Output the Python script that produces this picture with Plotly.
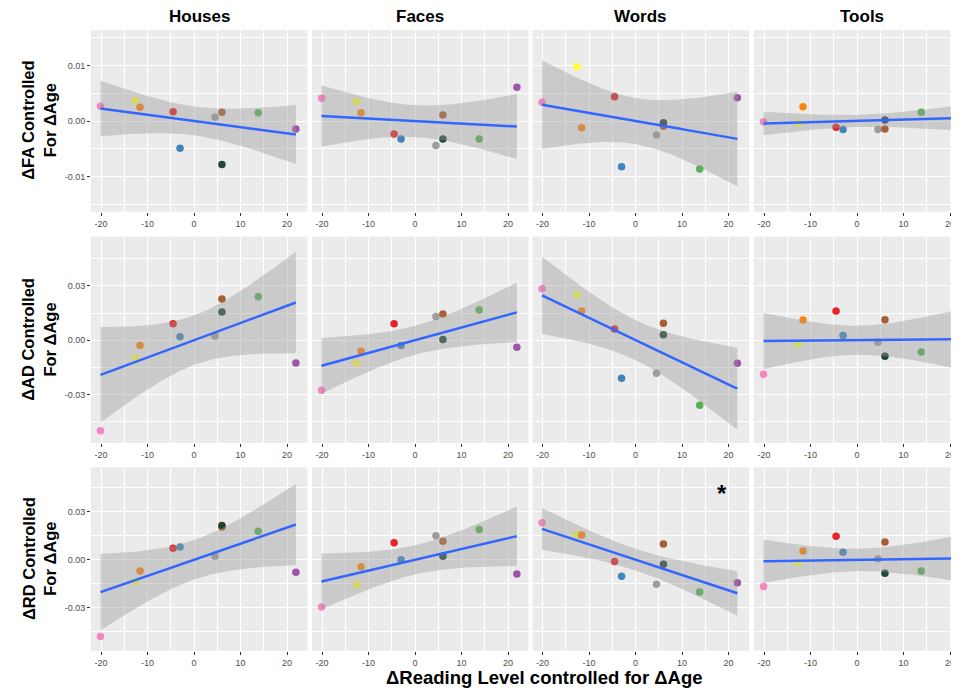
import numpy as np
import plotly.graph_objects as go

# page is 959x689, the html body adds an 8px margin at top/left
OFF = 8
W, H = 959 - OFF, 689 - OFF

# ---------------- data ----------------
categories = ["Houses", "Faces", "Words", "Tools"]
row_titles = ["ΔFA Controlled<br>For ΔAge", "ΔAD Controlled<br>For ΔAge", "ΔRD Controlled<br>For ΔAge"]
x_title = "ΔReading Level controlled for ΔAge"

subject_colors = ["#F781BF", "#FFFF33", "#FF7F00", "#E41A1C", "#377EB8",
                  "#999999", "#A65628", "#17402C", "#4DAF4A", "#984EA3"]
reading_level = [-20.1, -12.6, -11.6, -4.5, -3.0, 4.5, 6.0, 6.0, 13.8, 21.9]

# FA row
fa_houses = [0.0027, 0.0037, 0.0025, 0.0017, -0.0049, 0.0007, 0.0016, -0.0078, 0.0015, -0.0014]
fa_faces = [0.0041, 0.0035, 0.0015, -0.0023, -0.0032, -0.0044, 0.0011, -0.0032, -0.0032, 0.0061]
fa_words = [0.0034, 0.0098, -0.0012, 0.0044, -0.0082, -0.0025, -0.0009, -0.0003, -0.0086, 0.0042]
fa_tools = [-0.0001, -0.0003, 0.0026, -0.0011, -0.0015, -0.0015, -0.0014, 0.0002, 0.0016, 0.0019]
# AD row
ad_houses = [-0.0500, -0.0098, -0.0029, 0.0092, 0.0020, 0.0024, 0.0228, 0.0156, 0.0241, -0.0125]
ad_faces = [-0.0276, -0.0127, -0.0061, 0.0092, -0.0029, 0.0131, 0.0145, 0.0004, 0.0167, -0.0039]
ad_words = [0.0285, 0.0252, 0.0162, 0.0063, -0.0210, -0.0182, 0.0094, 0.0031, -0.0359, -0.0127]
ad_tools = [-0.0188, -0.0022, 0.0112, 0.0162, 0.0026, -0.0011, 0.0114, -0.0088, -0.0064, -0.0037]
# RD row
rd_houses = [-0.0481, -0.0138, -0.0071, 0.0071, 0.0079, 0.0021, 0.0204, 0.0213, 0.0177, -0.0079]
rd_faces = [-0.0296, -0.0156, -0.0044, 0.0106, 0.0000, 0.0150, 0.0115, 0.0021, 0.0188, -0.0090]
rd_words = [0.0231, 0.0158, 0.0154, -0.0012, -0.0104, -0.0154, 0.0098, -0.0029, -0.0202, -0.0144]
rd_tools = [-0.0167, -0.0019, 0.0054, 0.0146, 0.0046, 0.0006, 0.0110, -0.0085, -0.0071, -0.0035]

values = [
    [fa_houses, fa_faces, fa_words, fa_tools],
    [ad_houses, ad_faces, ad_words, ad_tools],
    [rd_houses, rd_faces, rd_words, rd_tools],
]

ribbon_halfwidth_left = [
    [0.0050, 0.0055, 0.0080, 0.0021],
    [0.0264, 0.0154, 0.0213, 0.0155],
    [0.0238, 0.0175, 0.0130, 0.0135],
]

x_ticks = [-20, -10, 0, 10, 20]
x_tick_text = ["-20", "-10", "0", "10", "20"]
y_ticks = [[-0.01, 0.0, 0.01], [-0.03, 0.0, 0.03], [-0.03, 0.0, 0.03]]
y_tick_text = [["-0.01", "0.00", "0.01"], ["-0.03", "0.00", "0.03"], ["-0.03", "0.00", "0.03"]]
y_minor = [[-0.015, -0.005, 0.005, 0.015], [-0.045, -0.015, 0.015, 0.045], [-0.045, -0.015, 0.015, 0.045]]

# ---------------- layout geometry (page pixels) ----------------
col_px = [(91, 307.5), (312, 528.5), (532.5, 749), (754, 959)]
col_range = [[-22.15, 24.4], [-22.15, 24.4], [-22.15, 24.4], [-22.15, 21.93]]
row_px = [(30, 211.7), (236.7, 443), (467.3, 650.7)]
row_range = [[-0.0163, 0.0164], [-0.0567, 0.0572], [-0.0569, 0.05775]]


def fx(px):
    return min(max((px - OFF) / W, 0.0), 1.0)


def fy(py):
    return min(max(1 - (py - OFF) / H, 0.0), 1.0)


fig = go.Figure()
layout = {}
font_family = "Liberation Sans, Arial, sans-serif"

for r in range(3):
    for c in range(4):
        k = r * 4 + c + 1
        xa = "x" if k == 1 else f"x{k}"
        ya = "y" if k == 1 else f"y{k}"
        xs = np.array(reading_level)
        ys = np.array(values[r][c])

        # points
        fig.add_trace(go.Scatter(
            x=xs, y=ys, mode="markers", xaxis=xa, yaxis=ya,
            marker=dict(size=7.5, color=subject_colors, opacity=0.95, line=dict(width=0)),
            showlegend=False, hoverinfo="skip"))

        # linear fit and ribbon
        n = len(xs)
        xbar = xs.mean()
        sxx = ((xs - xbar) ** 2).sum()
        slope, intercept = np.polyfit(xs, ys, 1)
        grid = np.linspace(xs.min(), xs.max(), 120)
        fit = intercept + slope * grid
        shape = np.sqrt(1 / n + (grid - xbar) ** 2 / sxx)
        shape0 = np.sqrt(1 / n + (xs.min() - xbar) ** 2 / sxx)
        hw = ribbon_halfwidth_left[r][c] * shape / shape0
        fig.add_trace(go.Scatter(
            x=np.concatenate([grid, grid[::-1]]),
            y=np.concatenate([fit + hw, (fit - hw)[::-1]]),
            fill="toself", fillcolor="rgba(153,153,153,0.4)", line=dict(width=0),
            mode="lines", xaxis=xa, yaxis=ya, showlegend=False, hoverinfo="skip"))
        fig.add_trace(go.Scatter(
            x=grid, y=fit, mode="lines", xaxis=xa, yaxis=ya,
            line=dict(color="#3366FF", width=2.5), showlegend=False, hoverinfo="skip"))

        x0, x1 = col_px[c]
        y0, y1 = row_px[r]
        axkey_x = "xaxis" if k == 1 else f"xaxis{k}"
        axkey_y = "yaxis" if k == 1 else f"yaxis{k}"
        layout[axkey_x] = dict(
            domain=[fx(x0), fx(x1)], anchor=ya, range=col_range[c],
            tickmode="array", tickvals=x_ticks, ticktext=x_tick_text,
            showgrid=True, gridcolor="white", gridwidth=1.1, zeroline=False,
            showline=False, ticks="outside", ticklen=3, tickwidth=1, tickcolor="#333333",
            tickfont=dict(family=font_family, size=9, color="#4D4D4D"),
            minor=dict(tickmode="array", tickvals=[-25, -15, -5, 5, 15, 25], showgrid=True,
                       gridcolor="white", gridwidth=0.5, ticks=""),
            fixedrange=True)
        layout[axkey_y] = dict(
            domain=[fy(y1), fy(y0)], anchor=xa, range=row_range[r],
            tickmode="array", tickvals=y_ticks[r], ticktext=y_tick_text[r],
            showticklabels=(c == 0), ticks="outside" if c == 0 else "",
            ticklen=3, tickwidth=1, tickcolor="#333333",
            showgrid=True, gridcolor="white", gridwidth=1.1, zeroline=False, showline=False,
            tickfont=dict(family=font_family, size=9, color="#4D4D4D"),
            minor=dict(tickmode="array", tickvals=y_minor[r], showgrid=True,
                       gridcolor="white", gridwidth=0.5, ticks=""),
            fixedrange=True)

annotations = []
# strip titles
for c, name in enumerate(categories):
    x0 = col_px[c][0]
    cx = x0 + 216.5 / 2
    annotations.append(dict(
        text=f"<b>{name}</b>", x=fx(cx), y=fy(17), xref="paper", yref="paper",
        xanchor="center", yanchor="middle", showarrow=False,
        font=dict(family=font_family, size=17, color="black")))
# row titles
for r, t in enumerate(row_titles):
    y0, y1 = row_px[r]
    annotations.append(dict(
        text=f"<b>{t}</b>", x=fx(39), y=fy((y0 + y1) / 2), xref="paper", yref="paper",
        xanchor="center", yanchor="middle", showarrow=False, textangle=-90,
        font=dict(family=font_family, size=16.5, color="black")))
# x title
annotations.append(dict(
    text=f"<b>{x_title}</b>", x=fx(544), y=fy(677), xref="paper", yref="paper",
    xanchor="center", yanchor="middle", showarrow=False,
    font=dict(family=font_family, size=18.5, color="black")))
# significance marker
annotations.append(dict(
    text="<b>*</b>", x=18.5, y=0.0435, xref="x11", yref="y11",
    xanchor="center", yanchor="middle", showarrow=False, yshift=-3,
    font=dict(family=font_family, size=24, color="black")))

fig.update_layout(
    width=W, height=H, margin=dict(l=0, r=0, t=0, b=0),
    paper_bgcolor="white", plot_bgcolor="#EBEBEB",
    annotations=annotations, showlegend=False, **layout)

fig.write_html("out.html")
